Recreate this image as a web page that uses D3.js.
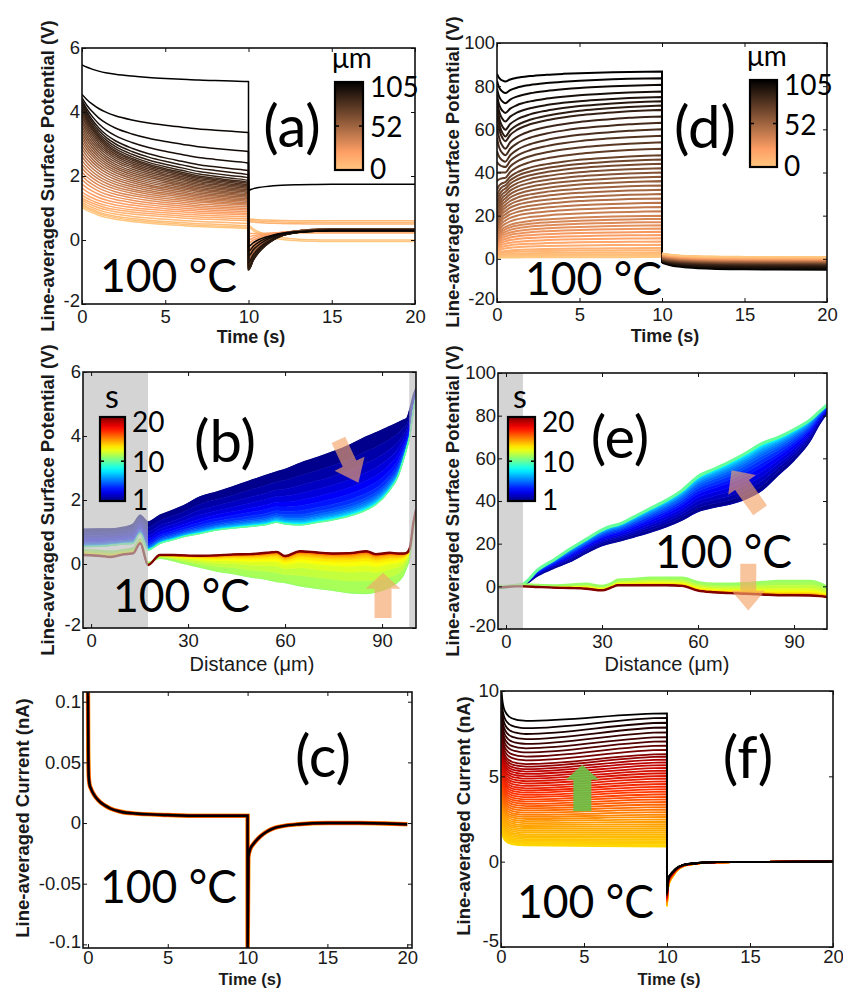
<!DOCTYPE html>
<html>
<head>
<meta charset="utf-8">
<script src="https://cdn.jsdelivr.net/npm/d3@7"></script>
<style>
body { margin: 0; background: #fff; }
svg { display: block; }
</style>
</head>
<body>
<svg id="fig" width="843" height="988"></svg>
<script>
// ---------------- data ----------------

// (a) potential vs time, one line per distance (0 -> 105 um)
const aStart  = [1.02,1.08,1.12,1.18,1.25,1.32,1.4,1.5,1.62,1.75,1.88,2.0,2.12,2.24,2.36,2.48,2.6,2.72,2.84,2.95,3.06,3.16,3.26,3.36,3.46,3.56,3.66,3.75,3.84,3.92,4.0,4.06,4.12,4.18,4.24,4.3,4.36,4.44,4.55,5.47];
const aEnd10  = [0.36,0.4,0.45,0.52,0.6,0.66,0.72,0.78,0.83,0.88,0.93,0.98,1.03,1.08,1.12,1.16,1.2,1.24,1.28,1.32,1.36,1.4,1.44,1.48,1.52,1.56,1.6,1.64,1.68,1.72,1.76,1.8,1.86,1.94,2.04,2.16,2.4,2.76,3.36,4.95];
const aPost10 = [0.4,0.45,0.62,0.66,0.58,0.2,0.1,0.0,-0.1,-0.2,-0.3,-0.35,-0.4,-0.45,-0.5,-0.55,-0.6,-0.62,-0.65,-0.68,-0.7,-0.72,-0.74,-0.76,-0.78,-0.8,-0.82,-0.84,-0.86,-0.88,-0.9,-0.92,-0.94,-0.9,-0.85,-0.7,-0.5,-0.35,-0.2,1.56];
const aPost20 = [-0.05,0.0,0.55,0.6,0.5,0.22,0.25,0.28,0.3,0.3,0.3,0.31,0.32,0.32,0.33,0.33,0.34,0.34,0.34,0.35,0.35,0.35,0.35,0.35,0.34,0.34,0.34,0.33,0.33,0.33,0.32,0.32,0.32,0.31,0.31,0.3,0.3,0.29,0.28,1.74];
const aPreT     = [0,0.3,0.6,1,1.5,2,3,4,5,6,7,8,9,10];
const aPreShape = [1,0.86,0.75,0.63,0.52,0.44,0.33,0.25,0.19,0.14,0.09,0.06,0.03,0];
const aPostT     = [0,0.3,0.6,1,1.5,2,3,4,5,7,10];
const aPostShape = [1,0.75,0.57,0.4,0.25,0.15,0.06,0.02,0,0,0];

// (d) potential vs time, one line per distance
const dStart  = [0.5,0.8,1,1.2,1.5,2,2.6,3.2,3.8,4.4,5,5.6,6.2,6.8,7.4,8,9,10,11,12,13,14,15,16.5,18,20,23,26,29,32,36,40,45,50,56,62,67,70,72,74,76,78.8,82.5,85.7];
const dKnee   = [0.6,1.1,1.6,2.2,2.9,3.6,4.8,5.9,7,8.1,9.2,10.3,11.4,12.5,13.6,14.7,16.2,17.7,19.2,20.6,22.1,23.6,25,26.5,28,29.5,31,32.5,34,35.5,37.5,40,42.5,45,48,51,54.5,56.7,59.8,63.6,67.6,72.1,76.8,82.2];
const dEnd10  = [0.8,1.5,2.2,3,4,5,6.5,8,9.5,11,12.5,14,15.5,17,18.5,20,22,24,26,28,30,32,34,36,38,40,42,44,46,48,51,54,57,60,63,66,69,71,73,75,77.5,80.6,83.7,86.8];
const dPost10 = [2.6,2.5,2.5,2.4,2.3,2.2,2.2,2.1,2.0,1.9,1.8,1.7,1.6,1.5,1.4,1.3,1.2,1.1,1.0,0.9,0.8,0.7,0.6,0.5,0.4,0.3,0.2,0.1,0.0,-0.1,-0.2,-0.3,-0.4,-0.5,-0.6,-0.7,-0.8,-0.9,-1.0,-1.1,-1.2,-1.4,-1.6,-1.9];
const dPost20 = [0.9,0.8,0.7,0.6,0.5,0.4,0.3,0.2,0.1,0,-0.1,-0.2,-0.3,-0.4,-0.5,-0.6,-0.7,-0.8,-0.9,-1.0,-1.1,-1.2,-1.3,-1.4,-1.5,-1.6,-1.7,-1.8,-1.9,-2.0,-2.1,-2.2,-2.3,-2.4,-2.6,-2.8,-3.0,-3.2,-3.5,-3.8,-4.1,-4.4,-4.8,-5.1];
const dKneeT     = [0.1,0.2,0.35,0.5];
const dKneeShape = [0.45,0.7,0.9,1];
const dRiseT     = [0.8,1.2,2,3,4,5,6,7,8,9,10];
const dRiseShape = [0.8,0.64,0.46,0.33,0.24,0.17,0.12,0.08,0.045,0.02,0];
const dPostT     = [0,0.5,1,2,3,5,7,10];
const dPostShape = [0,0.35,0.55,0.75,0.86,0.95,0.98,1];

// (b) potential profiles vs distance
const distB = [-2.5,3,6,10,13,15.2,17.6,21.3,25.5,28.5,33.7,38.8,44,49.1,54.3,57.4,60,64.6,70,74.9,80,85.2,88,92.4,95,96.6,97.6,98.6,99.7,100.5];
const bT1   = [1.09,1.1,1.1,1.15,1.25,1.53,1.32,1.53,1.69,1.82,2.1,2.25,2.42,2.6,2.78,2.88,2.96,3.15,3.33,3.51,3.72,3.98,4.1,4.3,4.42,4.5,4.55,4.85,5.3,5.5];
const bT10  = [0.54,0.55,0.58,0.62,0.64,0.95,0.44,0.64,0.76,0.85,0.95,1.06,1.12,1.17,1.23,1.3,1.25,1.22,1.3,1.38,1.5,1.69,1.85,2.31,2.75,3.25,3.6,4.0,4.8,5.2];
const bT11  = [0.45,0.42,0.4,0.45,0.5,0.8,0.05,0.18,0.1,0.02,-0.1,-0.22,-0.3,-0.4,-0.48,-0.55,-0.58,-0.68,-0.76,-0.82,-0.9,-0.92,-0.88,-0.72,-0.55,-0.35,-0.1,0.2,1.1,1.5];
const bT20  = [0.28,0.25,0.22,0.3,0.33,0.65,-0.03,0.28,0.28,0.27,0.26,0.27,0.3,0.31,0.35,0.38,0.25,0.4,0.36,0.33,0.34,0.4,0.31,0.35,0.33,0.33,0.35,0.5,1.3,1.7];

// (e) potential profiles vs distance
const distE = [-2.5,0,2.5,5.3,10,15,20,25,30,33,35,40,45,50,55,60,65,70,75,80,85,90,95,98,100.3];
const eT1   = [-0.8,-0.3,0.2,0.5,5,8.5,11.5,15.5,19,20.3,21,23.1,25.3,27.8,31,35,37,38.5,41,45,52,59,68,76,81];
const eT10  = [-0.8,-0.3,0.3,1.0,7.8,12.5,17.5,22,26.5,28.3,29,32.6,36.5,40.3,45,51.5,55,58.5,62.5,67,69.8,73.5,78,82,85];
const eT11  = [0.3,0.2,0.5,0.9,0.6,0.45,0.8,1.2,0.2,1.5,3.1,3.5,4,4,4,2,1.2,1.2,1.5,2,2.5,2.5,2.5,1.5,-0.3];
const eT20  = [-0.6,-0.3,0,0,-0.3,-0.6,-0.8,-1.1,-1.9,-0.5,0.5,0.5,0.5,0.5,0.2,-2,-2.8,-3.2,-3.5,-3.8,-4.2,-4.2,-4.3,-4.6,-5];

const upTimes = [1,1.5,2,2.5,3,3.5,4,4.5,5,5.5,6,6.5,7,7.5,8,8.5,9,9.5,10];
const lowTimes = [11,11.5,12,12.5,13,13.5,14,14.5,15,15.5,16,16.5,17,17.5,18,18.5,19,19.5,20];
const bUpFrac = [0,0.2,0.36,0.49,0.6,0.69,0.77,0.83,0.87,0.9,0.925,0.945,0.96,0.972,0.982,0.99,0.995,0.998,1];
const eUpFrac = [0,0.1,0.2,0.3,0.4,0.5,0.58,0.66,0.73,0.79,0.84,0.88,0.915,0.94,0.96,0.975,0.987,0.995,1];
const lowFrac = [0,0.3,0.52,0.67,0.77,0.84,0.89,0.925,0.95,0.965,0.977,0.985,0.99,0.993,0.995,0.997,0.998,0.999,1];

// (c) current vs time
const cTime = [0,0.02,0.05,0.1,0.2,0.35,0.5,0.75,1,1.4,2,2.4,3,3.9,5,7,10,10.001,10.05,10.15,10.4,10.8,11.2,11.7,12.2,13.2,15,17,20];
const cCur  = [0.11,0.06,0.038,0.032,0.028,0.024,0.021,0.0175,0.015,0.012,0.0095,0.0085,0.0078,0.0071,0.0066,0.006,0.006,-0.11,-0.028,-0.022,-0.0167,-0.011,-0.0071,-0.004,-0.0025,-0.001,0,0,-0.001];

// (f) current vs time, one line per distance
const fStart = [2.3,2.4,2.5,2.6,2.7,2.82,2.94,3.05,3.16,3.3,3.43,3.56,3.69,3.82,3.96,4.1,4.24,4.38,4.52,4.67,4.82,4.97,5.12,5.27,5.42,5.57,5.72,5.87,6.02,6.17,6.32,6.48,6.64,6.8,6.96,7.12,7.28,7.44,7.6,7.77,8.0,8.25,8.5,8.75,9.0,9.3,9.6,9.95,10.3,10.8];
const fMid   = [0.95,1.02,1.09,1.16,1.23,1.32,1.41,1.5,1.59,1.7,1.81,1.92,2.03,2.14,2.26,2.38,2.5,2.62,2.74,2.87,3.0,3.13,3.26,3.39,3.52,3.65,3.78,3.91,4.04,4.17,4.3,4.44,4.58,4.72,4.86,5.0,5.14,5.28,5.42,5.57,5.72,5.94,6.16,6.4,6.64,6.9,7.18,7.48,7.82,8.25];
const fEnd10 = [0.88,0.96,1.04,1.12,1.2,1.3,1.4,1.5,1.6,1.72,1.84,1.96,2.08,2.2,2.34,2.48,2.62,2.76,2.9,3.05,3.2,3.35,3.5,3.65,3.8,3.95,4.1,4.25,4.4,4.55,4.7,4.86,5.02,5.18,5.34,5.5,5.66,5.82,5.98,6.15,6.3,6.55,6.8,7.05,7.3,7.58,7.86,8.14,8.42,8.69];
const fMin   = [-2.62,-2.6,-2.58,-2.56,-2.55,-2.53,-2.51,-2.5,-2.48,-2.46,-2.45,-2.43,-2.41,-2.4,-2.38,-2.36,-2.35,-2.33,-2.31,-2.3,-2.28,-2.26,-2.25,-2.23,-2.21,-2.2,-2.18,-2.16,-2.15,-2.13,-2.11,-2.1,-2.08,-2.06,-2.05,-2.03,-2.01,-2.0,-1.98,-1.96,-1.95,-1.93,-1.91,-1.9,-1.88,-1.86,-1.85,-1.83,-1.81,-1.8];
const fTrT     = [0,0.03,0.07,0.12,0.2,0.3,0.45,0.65,0.9,1.2,1.5];
const fTrShape = [1,0.7,0.52,0.38,0.26,0.18,0.11,0.06,0.03,0.01,0];
const fRecT     = [0,0.03,0.1,0.2,0.35,0.6,1,1.5,2,3,5,10];
const fRecShape = [1,0.7,0.52,0.42,0.33,0.2,0.1,0.06,0.035,0.015,0.005,0];

// tick values
const timeTicks = [0,5,10,15,20];
const distTicks = [0,30,60,90];
const potTicksLow = [-2,0,2,4,6];
const potTicksHigh = [-20,0,20,40,60,80,100];
const curTicksC = [-0.1,-0.05,0,0.05,0.1];
const curTicksF = [-5,0,5,10];

// ---------------- drawing ----------------
const AXFONT = '"Liberation Sans", Arial, sans-serif';
const BIGFONT = 'Lato, "Noto Sans", sans-serif';
const svg = d3.select("#fig");
const defs = svg.append("defs");

function jet(t) {
    var x = Math.max(0, Math.min(1, (t - 1) / 19));
    var c = function (a) { return Math.round(255 * Math.max(0, Math.min(1, 1.5 - Math.abs(4 * x - a)))); };
    return "rgb(" + c(3) + "," + c(2) + "," + c(1) + ")";
}
function copper(v) {
    var x = Math.max(0, Math.min(1, v));
    return "rgb(" + Math.round(255 * Math.min(1, 1.25 * x)) + "," + Math.round(255 * 0.7812 * x) + "," + Math.round(255 * 0.4975 * x) + ")";
}
const hotRev = d3.scaleLinear()
    .domain([0, 0.3, 0.55, 0.75, 0.88, 1])
    .range(["#ffd800", "#ff9a00", "#ff3000", "#c00000", "#500000", "#000000"]);

function makePanel(id, box, xDom, yDom, xTicks, yTicks) {
    var x = d3.scaleLinear().domain(xDom).range([box.x0, box.x1]);
    var y = d3.scaleLinear().domain(yDom).range([box.y1, box.y0]);
    defs.append("clipPath").attr("id", "clip-" + id)
        .append("rect")
        .attr("x", box.x0).attr("y", box.y0)
        .attr("width", box.x1 - box.x0).attr("height", box.y1 - box.y0);
    var g = svg.append("g");
    var plot = g.append("g").attr("clip-path", "url(#clip-" + id + ")");
    var line = d3.line().x(function (d) { return x(d[0]); }).y(function (d) { return y(d[1]); }).curve(d3.curveMonotoneX);
    return {x: x, y: y, g: g, plot: plot, box: box, xTicks: xTicks, yTicks: yTicks, line: line};
}

function drawAxes(p, xPad, lowShift) {
    var box = p.box;
    var fmt = function (d) { return String(d); };
    var none = function () { return ""; };
    var lowest = d3.min(p.yTicks);
    var style = function (sel) {
        sel.select(".domain").remove();
        sel.selectAll("line").attr("stroke", "#111").attr("stroke-width", 1);
        sel.selectAll("text").attr("font-family", AXFONT).attr("font-size", 18.5).attr("fill", "#1a1a1a");
    };
    p.g.append("g").attr("transform", "translate(0," + box.y1 + ")")
        .call(d3.axisBottom(p.x).tickValues(p.xTicks).tickFormat(fmt).tickSize(-4).tickPadding(xPad)).call(style);
    p.g.append("g").attr("transform", "translate(0," + box.y0 + ")")
        .call(d3.axisTop(p.x).tickValues(p.xTicks).tickFormat(none).tickSize(-4)).call(style);
    var left = p.g.append("g").attr("transform", "translate(" + box.x0 + ",0)")
        .call(d3.axisLeft(p.y).tickValues(p.yTicks).tickFormat(fmt).tickSize(-4).tickPadding(2)).call(style);
    // the lowest y label sits a little higher, clear of the first x label
    left.selectAll(".tick text").filter(function (d) { return d === lowest; }).attr("y", -lowShift);
    p.g.append("g").attr("transform", "translate(" + box.x1 + ",0)")
        .call(d3.axisRight(p.y).tickValues(p.yTicks).tickFormat(none).tickSize(-4)).call(style);
    p.g.append("rect")
        .attr("x", box.x0).attr("y", box.y0)
        .attr("width", box.x1 - box.x0).attr("height", box.y1 - box.y0)
        .attr("fill", "none").attr("stroke", "#111").attr("stroke-width", 1.6);
}

function yTitle(text, cx, cy) {
    svg.append("text")
        .attr("transform", "translate(" + cx + "," + cy + ") rotate(-90)")
        .attr("text-anchor", "middle").attr("dominant-baseline", "central")
        .attr("font-family", AXFONT).attr("font-weight", "bold").attr("font-size", 18.5)
        .attr("fill", "#1a1a1a").text(text);
}
function xTitle(text, cx, baseY, bold, size) {
    svg.append("text")
        .attr("x", cx).attr("y", baseY).attr("text-anchor", "middle")
        .attr("font-family", AXFONT).attr("font-weight", bold ? "bold" : "normal")
        .attr("font-size", size).attr("fill", "#1a1a1a").text(text);
}
function bigLabel(text, cx, baseY) {
    svg.append("text")
        .attr("x", cx).attr("y", baseY).attr("text-anchor", "middle")
        .attr("font-family", BIGFONT).attr("font-size", 58).attr("fill", "#000").text(text);
}
function tempLabel(x0, baseY) {
    svg.append("text")
        .attr("x", x0).attr("y", baseY)
        .attr("font-family", BIGFONT).attr("font-size", 46).attr("fill", "#000")
        .attr("textLength", 137).attr("lengthAdjust", "spacingAndGlyphs")
        .text("100 °C");
}

function colorbar(id, x0, y0, w, h, colorFn, midFrac, labels, unit, unitX, unitY) {
    var grad = defs.append("linearGradient").attr("id", "cb-" + id)
        .attr("x1", 0).attr("y1", 1).attr("x2", 0).attr("y2", 0);
    d3.range(0, 1.0001, 0.05).forEach(function (f) {
        grad.append("stop").attr("offset", f).attr("stop-color", colorFn(f));
    });
    svg.append("rect").attr("x", x0).attr("y", y0).attr("width", w).attr("height", h)
        .attr("fill", "url(#cb-" + id + ")").attr("stroke", "#000").attr("stroke-width", 2.2);
    var ym = y0 + h * (1 - midFrac);
    svg.append("line").attr("x1", x0).attr("x2", x0 + 4).attr("y1", ym).attr("y2", ym).attr("stroke", "#000").attr("stroke-width", 1.5);
    svg.append("line").attr("x1", x0 + w - 4).attr("x2", x0 + w).attr("y1", ym).attr("y2", ym).attr("stroke", "#000").attr("stroke-width", 1.5);
    labels.forEach(function (l) {
        var yy = y0 + h * (1 - l[0]) + (l[0] === 1 ? 4 : (l[0] === 0 ? -2 : 0));
        svg.append("text").attr("x", x0 + w + 7).attr("y", yy)
            .attr("dominant-baseline", "central")
            .attr("font-family", BIGFONT).attr("font-size", 28).attr("fill", "#000").text(l[1]);
    });
    svg.append("text").attr("x", unitX).attr("y", unitY).attr("text-anchor", "middle")
        .attr("font-family", BIGFONT).attr("font-size", unit === "s" ? 32 : 28).attr("fill", "#000").text(unit);
}

function arrow(p, tail, tip, shaftW, headW, headL, color, op) {
    var x1 = p.x(tail[0]), y1 = p.y(tail[1]), x2 = p.x(tip[0]), y2 = p.y(tip[1]);
    var dx = x2 - x1, dy = y2 - y1, len = Math.sqrt(dx * dx + dy * dy);
    var ux = dx / len, uy = dy / len, nx = -uy, ny = ux;
    var bx = x2 - ux * headL, by = y2 - uy * headL;
    var pts = [
        [x1 + nx * shaftW / 2, y1 + ny * shaftW / 2],
        [bx + nx * shaftW / 2, by + ny * shaftW / 2],
        [bx + nx * headW / 2, by + ny * headW / 2],
        [x2, y2],
        [bx - nx * headW / 2, by - ny * headW / 2],
        [bx - nx * shaftW / 2, by - ny * shaftW / 2],
        [x1 - nx * shaftW / 2, y1 - ny * shaftW / 2]
    ];
    svg.append("polygon").attr("points", pts.map(function (q) { return q.join(","); }).join(" "))
        .attr("fill", color).attr("fill-opacity", op);
}

function drawBand(p, dist, first, last, frac, times) {
    var profs = frac.map(function (f) {
        return dist.map(function (d, k) { return [d, first[k] + (last[k] - first[k]) * f]; });
    });
    var area = d3.area()
        .x(function (d) { return p.x(d[0]); })
        .y0(function (d) { return p.y(d[1]); })
        .y1(function (d) { return p.y(d[2]); })
        .curve(d3.curveMonotoneX);
    for (var k = 0; k < profs.length - 1; k++) {
        var pair = profs[k].map(function (q, j) { return [q[0], q[1], profs[k + 1][j][1]]; });
        var col = jet((times[k] + times[k + 1]) / 2);
        p.plot.append("path").attr("d", area(pair)).attr("fill", col).attr("stroke", col).attr("stroke-width", 0.6);
    }
    return profs;
}

function greyBand(p, from, to) {
    p.plot.append("rect")
        .attr("x", p.x(from)).attr("y", p.box.y0)
        .attr("width", p.x(to) - p.x(from)).attr("height", p.box.y1 - p.box.y0)
        .attr("fill", "#bdbdbd").attr("fill-opacity", 0.66);
}

// ---- panel (a)
const pA = makePanel("a", {x0: 82, x1: 415, y0: 48, y1: 304}, [0, 20], [-2, 6], timeTicks, potTicksLow);
aStart.forEach(function (s, i) {
    var pts = aPreT.map(function (t, j) { return [t, aEnd10[i] + (s - aEnd10[i]) * aPreShape[j]]; })
        .concat(aPostT.map(function (tau, j) { return [10.001 + tau, aPost20[i] + (aPost10[i] - aPost20[i]) * aPostShape[j]]; }));
    pA.plot.append("path").attr("d", pA.line(pts)).attr("fill", "none")
        .attr("stroke", copper(1 - i / (aStart.length - 1))).attr("stroke-width", 1.5);
});
drawAxes(pA, 6, 3);

// ---- panel (d): the bias part in order, the off part with the dark lines underneath
const pD = makePanel("d", {x0: 497, x1: 827, y0: 43, y1: 302}, [0, 20], [-20, 100], timeTicks, potTicksHigh);
dEnd10.forEach(function (e, i) {
    var pts = [[0, dStart[i]]]
        .concat(dKneeT.map(function (t, j) { return [t, dStart[i] + (dKnee[i] - dStart[i]) * dKneeShape[j]]; }))
        .concat(dRiseT.map(function (t, j) { return [t, e + (dKnee[i] - e) * dRiseShape[j]]; }));
    pD.plot.append("path").attr("d", pD.line(pts) + "L" + pD.x(10) + "," + pD.y(dPost10[i]))
        .attr("fill", "none")
        .attr("stroke", copper(1 - i / (dEnd10.length - 1))).attr("stroke-width", 2);
});
dEnd10.map(function (e, i) { return i; }).reverse().forEach(function (i) {
    var pts = dPostT.map(function (tau, j) { return [10 + tau, dPost10[i] + (dPost20[i] - dPost10[i]) * dPostShape[j]]; });
    pD.plot.append("path").attr("d", pD.line(pts)).attr("fill", "none")
        .attr("stroke", copper(1 - i / (dEnd10.length - 1))).attr("stroke-width", 1.6);
});
drawAxes(pD, 6, 3);

// ---- panel (b)
const pB = makePanel("b", {x0: 83, x1: 416, y0: 372, y1: 628}, [-2.5, 100.5], [-2, 6], distTicks, potTicksLow);
drawBand(pB, distB, bT1, bT10, bUpFrac, upTimes);
drawBand(pB, distB, bT11, bT20, lowFrac, lowTimes);
[[bT1, jet(1), 1.2], [bT10, jet(10), 1.4], [bT11, jet(11), 1.4], [bT20, "#800000", 2.4]].forEach(function (l) {
    pB.plot.append("path").attr("d", pB.line(distB.map(function (d, k) { return [d, l[0][k]]; })))
        .attr("fill", "none").attr("stroke", l[1]).attr("stroke-width", l[2]);
});
greyBand(pB, -2.5, 17.6);
greyBand(pB, 98.4, 100.5);
drawAxes(pB, 6, 3);

// ---- panel (e)
const pE = makePanel("e", {x0: 498, x1: 827, y0: 373, y1: 629}, [-2.5, 100.3], [-20, 100], distTicks, potTicksHigh);
drawBand(pE, distE, eT1, eT10, eUpFrac, upTimes);
drawBand(pE, distE, eT11, eT20, lowFrac, lowTimes);
[[eT1, "#0000a0", 1.2], [eT10, jet(10), 3], [eT11, jet(11), 2.4], [eT20, "#800000", 2.4]].forEach(function (l) {
    pE.plot.append("path").attr("d", pE.line(distE.map(function (d, k) { return [d, l[0][k]]; })))
        .attr("fill", "none").attr("stroke", l[1]).attr("stroke-width", l[2]);
});
greyBand(pE, -2.5, 5.3);
drawAxes(pE, 6, 3);

// ---- panel (c)
const pC = makePanel("c", {x0: 83, x1: 412, y0: 692, y1: 948}, [-0.31, 20.3], [-0.103, 0.108], timeTicks, curTicksC);
const cPts = cTime.map(function (t, i) { return [t, cCur[i]]; });
[["#ffa000", 4.4], ["#d81000", 3.4], ["#000", 2.4]].forEach(function (s) {
    pC.plot.append("path").attr("d", pC.line(cPts)).attr("fill", "none")
        .attr("stroke", s[0]).attr("stroke-width", s[1]);
});
drawAxes(pC, 3, 3);

// ---- panel (f)
const pF = makePanel("f", {x0: 501, x1: 833, y0: 691, y1: 947}, [0, 20], [-5, 10], timeTicks, curTicksF);
fEnd10.forEach(function (e, i) {
    var pts = fTrT.map(function (t, j) { return [t, fMid[i] + (fStart[i] - fMid[i]) * fTrShape[j]]; })
        .concat([[10, e]])
        .concat(fRecT.map(function (tau, j) { return [10.001 + tau, fMin[i] * fRecShape[j]]; }));
    pF.plot.append("path").attr("d", pF.line(pts)).attr("fill", "none")
        .attr("stroke", hotRev(i / (fEnd10.length - 1))).attr("stroke-width", 1.8);
});
drawAxes(pF, 3, 6);

// ---- titles
yTitle("Line-averaged Surface Potential (V)", 47, 176);
yTitle("Line-averaged Surface Potential (V)", 452, 172);
yTitle("Line-averaged Surface Potential (V)", 47, 500);
yTitle("Line-averaged Surface Potential (V)", 452, 501);
yTitle("Line-averaged Current (nA)", 22, 818);
yTitle("Line-averaged Current (nA)", 463, 816);
xTitle("Time (s)", 251, 343, true, 18);
xTitle("Time (s)", 665, 342, true, 18);
xTitle("Distance (\u03bcm)", 252, 671, false, 20);
xTitle("Distance (\u03bcm)", 667, 671, false, 20);
xTitle("Time (s)", 250, 984.5, true, 16.5);
xTitle("Time (s)", 669, 984.5, true, 16.5);

// ---- colorbars
colorbar("a", 335, 82, 28, 88, function (f) { return copper(1 - f); }, 0.5, [[1, "105"], [0.495, "52"], [0, "0"]], "\u03bcm", 352, 68);
colorbar("d", 750, 80, 27, 87, function (f) { return copper(1 - f); }, 0.5, [[1, "105"], [0.495, "52"], [0, "0"]], "\u03bcm", 767, 66);
colorbar("b", 100, 417, 25, 84, function (f) { return jet(1 + 19 * f); }, 9 / 19, [[1, "20"], [9 / 19, "10"], [0, "1"]], "s", 112, 408);
colorbar("e", 508, 417, 27, 84, function (f) { return jet(1 + 19 * f); }, 9 / 19, [[1, "20"], [9 / 19, "10"], [0, "1"]], "s", 520, 408);

// ---- arrows
arrow(pB, [76.5, 3.88], [82.7, 2.54], 15, 33, 21, "#f4a46a", 0.65);
arrow(pB, [90.3, -1.69], [90.3, -0.27], 17, 35, 16, "#f4a46a", 0.65);
arrow(pE, [79.4, 35.6], [70.5, 54.4], 17, 34, 18, "#f4a46a", 0.65);
arrow(pE, [75.7, 10.6], [75.7, -11.3], 16, 34, 20, "#f4a46a", 0.65);
arrow(pF, [4.9, 2.95], [4.9, 5.68], 18, 33, 15, "#6cbf47", 0.92);

// ---- big labels
bigLabel("(a)", 292, 147);
bigLabel("(d)", 705, 148);
bigLabel("(b)", 225, 462);
bigLabel("(e)", 620, 458);
bigLabel("(c)", 323, 777);
bigLabel("(f)", 748, 778);
tempLabel(100, 292);
tempLabel(525, 295);
tempLabel(113, 612);
tempLabel(655, 568);
tempLabel(100, 903);
tempLabel(517, 918);
</script>
</body>
</html>
